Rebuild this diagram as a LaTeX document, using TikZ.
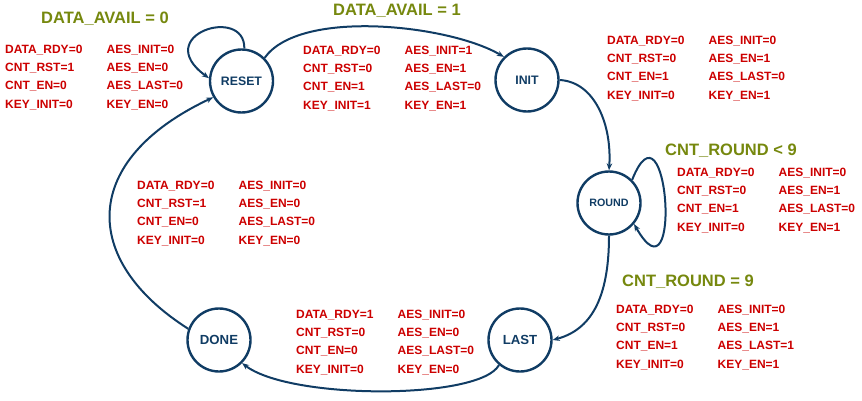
\documentclass[tikz,border=0pt]{standalone}
\usepackage{fontspec}
\setmainfont{Liberation Sans}
\usetikzlibrary{arrows.meta}
\definecolor{fsmblue}{RGB}{16,60,100}
\definecolor{sigred}{RGB}{204,0,0}
\definecolor{condgreen}{RGB}{118,136,14}
\newcommand{\outtab}[8]{%
\begin{tabular}{@{}p{101.5pt}@{}l@{}}
DATA\_RDY=#1 & AES\_INIT=#5\\
CNT\_RST=#2  & AES\_EN=#6\\
CNT\_EN=#3   & AES\_LAST=#7\\
KEY\_INIT=#4 & KEY\_EN=#8
\end{tabular}}

\begin{document}
\begin{tikzpicture}[x=1pt,y=-1pt,
  state/.style={circle,draw=fsmblue,line width=2.4pt,minimum size=63pt,inner sep=0pt,
    text=fsmblue,font=\bfseries\fontsize{12.3}{14}\selectfont},
  trans/.style={draw=fsmblue,line width=2pt,-{Stealth[length=7pt,width=5.5pt]}},
  outs/.style={anchor=west,inner sep=0pt,text=sigred,font=\bfseries\fontsize{12}{18.3}\selectfont},
  cond/.style={anchor=west,inner sep=0pt,text=condgreen,font=\bfseries\fontsize{16.5}{18}\selectfont}]
\useasboundingbox (0,0) rectangle (862,401);
% states
\node(Reset) [state] at (241.5,81) {RESET};
\node(Init)  [state] at (527,80) {INIT};
\node(Round) [state,font=\bfseries\fontsize{10.7}{12}\selectfont] at (609,203) {ROUND};
\node(Last)  [state,font=\bfseries\fontsize{13.2}{15}\selectfont] at (520,340) {LAST};
\node(Done)  [state,font=\bfseries\fontsize{13.2}{15}\selectfont] at (219,340) {DONE};
% conditions
\node(availZero)  [cond] at (41,19)  {DATA\_AVAIL = 0};
\node(availOne)   [cond] at (333,11) {DATA\_AVAIL = 1};
\node(roundLess)  [cond] at (665,151) {CNT\_ROUND < 9};
\node(roundNine)  [cond] at (622,282) {CNT\_ROUND = 9};
% output values
\node(resetOuts) [outs] at (5,77)   {\outtab{0}{1}{0}{0}{0}{0}{0}{0}};
\node(startOuts) [outs] at (303,78) {\outtab{0}{0}{1}{1}{1}{1}{0}{1}};
\node(initOuts)  [outs] at (607,68) {\outtab{0}{0}{1}{0}{0}{1}{0}{1}};
\node(roundOuts) [outs] at (677,200) {\outtab{0}{0}{1}{0}{0}{1}{0}{1}};
\node(doneOuts)  [outs] at (137,213) {\outtab{0}{1}{0}{0}{0}{0}{0}{0}};
\node(lastOuts)  [outs] at (296,342) {\outtab{1}{0}{0}{0}{0}{0}{0}{0}};
\node(nineOuts)  [outs] at (616,337) {\outtab{0}{0}{1}{0}{0}{1}{1}{1}};
% transitions
\draw[trans] (Reset.85) .. controls (245,5) and (150,35) .. (Reset.175);
\draw[trans] (Reset.45) .. controls (300,8) and (450,25) .. (Init.135);
\draw[trans] (Init.east) .. controls (595,82) and (612,125) .. (Round.north);
\draw[trans] (Round.45) .. controls (668,90) and (683,310) .. (Round.-40);
\draw[trans] (Round.south) .. controls (609,300) and (590,330) .. (Last.east);
\draw[trans] (Last.230) .. controls (480,400) and (290,400) .. (Done.-45);
\draw[trans] (Done.160) .. controls (80,260) and (80,160) .. (Reset.210);
\end{tikzpicture}
\end{document}
